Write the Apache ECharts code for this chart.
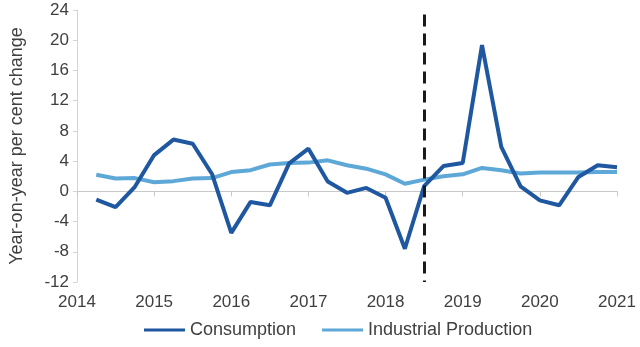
<!DOCTYPE html>
<html>
<head>
<meta charset="utf-8">
<script src="https://cdn.jsdelivr.net/npm/echarts@6/dist/echarts.min.js"></script>
<style>
  html, body { margin: 0; padding: 0; background: #fff; }
  #chart { width: 640px; height: 347px; }
</style>
</head>
<body>
<div id="chart"></div>
<script>
// Quarter-end positions (2014 Q1 .. 2020 Q4) as fractional years
const quarters = [
  2014.25, 2014.5, 2014.75, 2015.0, 2015.25, 2015.5, 2015.75, 2016.0,
  2016.25, 2016.5, 2016.75, 2017.0, 2017.25, 2017.5, 2017.75, 2018.0,
  2018.25, 2018.5, 2018.75, 2019.0, 2019.25, 2019.5, 2019.75, 2020.0,
  2020.25, 2020.5, 2020.75, 2021.0
];

// Year-on-year per cent change
const consumption = [
  -1.1, -2.1, 0.6, 4.8, 6.85, 6.3, 2.3, -5.5,
  -1.4, -1.85, 3.7, 5.65, 1.3, -0.2, 0.45, -0.85,
  -7.6, 0.7, 3.35, 3.75, 19.35, 5.9, 0.66, -1.2,
  -1.85, 1.9, 3.45, 3.2
];
const industrialProduction = [
  2.2, 1.7, 1.75, 1.2, 1.35, 1.7, 1.75, 2.55,
  2.8, 3.55, 3.75, 3.8, 4.1, 3.45, 3.0, 2.25,
  1.0, 1.55, 2.0, 2.25, 3.1, 2.8, 2.35, 2.5,
  2.5, 2.5, 2.55, 2.55
];

const seriesNames = ['Consumption', 'Industrial Production'];
const breakYear = 2018.5;
const breakTop = 23.4;
const yTicks = { min: -12, max: 24, interval: 4 };
const xTicks = { min: 2014, max: 2021, interval: 1 };

const pairs = (ys) => ys.map((v, i) => [quarters[i], v]);

const font = 'Liberation Sans, Arial, sans-serif';
const textColor = '#404040';

const chart = echarts.init(document.getElementById('chart'), null, { renderer: 'canvas' });
chart.setOption({
  animation: false,
  textStyle: { fontFamily: font },
  grid: { left: 69, right: 23, top: 10, bottom: 65, containLabel: false },
  legend: {
    bottom: 3,
    left: 139,
    itemWidth: 41,
    itemHeight: 3,
    itemGap: 26,
    icon: 'rect',
    textStyle: { fontSize: 18, color: textColor, fontFamily: font },
    data: seriesNames
  },
  xAxis: [
    {
      // line through zero with downward ticks
      type: 'value',
      min: xTicks.min, max: xTicks.max, interval: xTicks.interval,
      axisLine: { show: true, onZero: true, lineStyle: { color: '#c8c8c8', width: 1 } },
      axisTick: { show: true, length: 5, lineStyle: { color: '#c8c8c8' } },
      axisLabel: { show: false },
      splitLine: { show: false }
    },
    {
      // year labels along the bottom
      type: 'value',
      position: 'bottom',
      min: xTicks.min, max: xTicks.max, interval: xTicks.interval,
      axisLine: { show: false, onZero: false },
      axisTick: { show: false },
      splitLine: { show: false },
      axisLabel: {
        show: true, fontSize: 17, color: textColor, margin: 12, fontFamily: font,
        formatter: (v) => String(v)
      }
    }
  ],
  yAxis: {
    type: 'value',
    min: yTicks.min, max: yTicks.max, interval: yTicks.interval,
    name: 'Year-on-year per cent change',
    nameLocation: 'middle',
    nameGap: 51,
    nameTextStyle: { fontSize: 18, color: textColor, fontFamily: font },
    axisLine: { show: true, lineStyle: { color: '#d4d4d4', width: 1 } },
    axisTick: { show: true, length: 4, lineStyle: { color: '#d4d4d4' } },
    axisLabel: { fontSize: 17, color: textColor, margin: 8, fontFamily: font },
    splitLine: { show: false }
  },
  series: [
    {
      name: seriesNames[0],
      type: 'line',
      xAxisIndex: 0,
      data: pairs(consumption),
      showSymbol: false,
      symbol: 'none',
      lineStyle: { color: '#1f58a0', width: 4 },
      itemStyle: { color: '#1f58a0' },
      z: 3,
      markLine: {
        silent: true,
        symbol: 'none',
        label: { show: false },
        lineStyle: { color: '#1a1a1a', width: 3, type: [12, 7] },
        data: [[{ coord: [breakYear, breakTop] }, { coord: [breakYear, yTicks.min] }]]
      }
    },
    {
      name: seriesNames[1],
      type: 'line',
      xAxisIndex: 0,
      data: pairs(industrialProduction),
      showSymbol: false,
      symbol: 'none',
      lineStyle: { color: '#5ea8d8', width: 4 },
      itemStyle: { color: '#5ea8d8' },
      z: 2
    }
  ]
});
</script>
</body>
</html>
